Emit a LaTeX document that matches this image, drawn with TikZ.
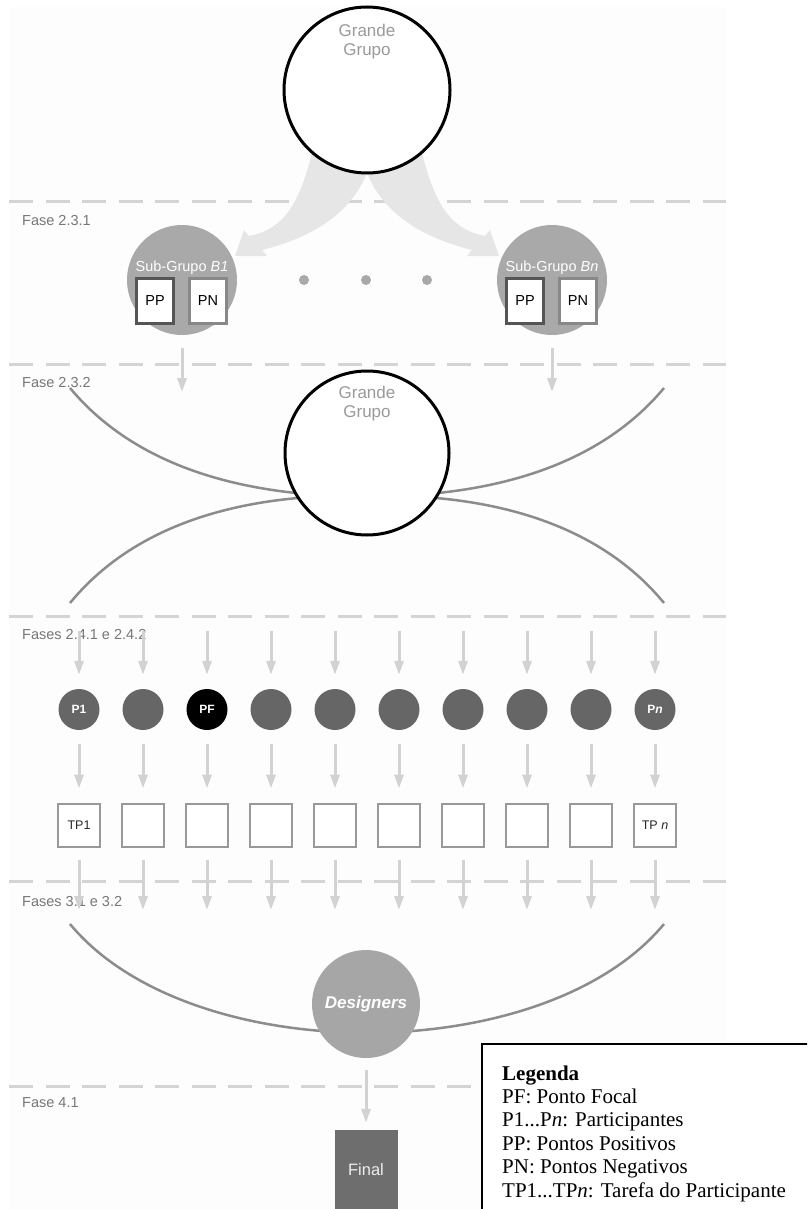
\documentclass[tikz,border=0pt]{standalone}
\usepackage{fontspec}
\setmainfont{Liberation Serif}
\setsansfont{Liberation Sans}
\usetikzlibrary{arrows.meta}
\definecolor{bgc}{HTML}{FDFDFD}
\definecolor{dashc}{HTML}{D4D4D4}
\definecolor{arrc}{HTML}{D2D2D2}
\definecolor{bandc}{HTML}{E6E6E6}
\definecolor{subc}{HTML}{A9A9A9}
\definecolor{pc}{HTML}{666666}
\definecolor{tpc}{HTML}{999999}
\definecolor{ppc}{HTML}{555555}
\definecolor{pnc}{HTML}{888888}
\definecolor{curvec}{HTML}{8C8C8C}
\definecolor{desc}{HTML}{A6A6A6}
\definecolor{finc}{HTML}{6E6E6E}
\definecolor{fasec}{HTML}{777777}
\definecolor{ggc}{HTML}{9A9A9A}
\begin{document}
\begin{tikzpicture}[x=1pt,y=-1pt,
  dashline/.style={draw=dashc, line width=3pt, dash pattern=on 24pt off 12.5pt},
  varrow/.style={draw=arrc, line width=3pt, -{Triangle[length=14pt,width=9pt]}},
  fase/.style={anchor=west, inner sep=0pt, text=fasec, font=\sffamily\fontsize{14.5}{17}\selectfont},
  bigcirc/.style={circle, draw=black, line width=3pt, fill=white, inner sep=0pt},
  ggtext/.style={align=center, inner sep=0pt, text=ggc, font=\sffamily\fontsize{17}{19}\selectfont},
  subgrp/.style={circle, fill=subc, minimum size=110pt, inner sep=0pt},
  subtext/.style={inner sep=0pt, text=white, font=\sffamily\fontsize{14.5}{17}\selectfont},
  ptbox/.style={rectangle, fill=white, line width=2.5pt, minimum width=37pt, minimum height=45pt, inner sep=0pt, font=\sffamily\fontsize{14.5}{17}\selectfont},
  dotc/.style={circle, fill=subc, minimum size=10pt, inner sep=0pt},
  pcirc/.style={circle, minimum size=41pt, inner sep=0pt, text=white, font=\sffamily\bfseries\fontsize{12}{14}\selectfont},
  tpbox/.style={rectangle, draw=tpc, line width=2pt, fill=white, minimum width=42pt, minimum height=43pt, inner sep=0pt, text=black!85, font=\sffamily\fontsize{12.5}{14}\selectfont},
  curve/.style={draw=curvec, line width=2.5pt},
  band/.style={fill=bandc},
  legtext/.style={anchor=base west, inner sep=0pt, font=\fontsize{21}{23.4}\selectfont}
]
\useasboundingbox (0,0) rectangle (807,1209);
\clip (0,0) rectangle (807,1209);
\fill[white] (0,0) rectangle (807,1209);
\fill[bgc] (9,7) rectangle (726,1209);

% dashed phase lines
\draw[dashline] (9,201) -- (726,201);
\draw[dashline] (9,364) -- (726,364);
\draw[dashline] (9,616) -- (726,616);
\draw[dashline] (9,881) -- (726,881);
\draw[dashline] (9,1086) -- (726,1086);

% phase labels
\node[fase] (f1) at (22,221) {Fase 2.3.1};
\node[fase] (f2) at (22,383) {Fase 2.3.2};
\node[fase] (f3) at (22,635) {Fases 2.4.1 e 2.4.2};
\node[fase] (f4) at (22,901) {Fases 3.1 e 3.2};
\node[fase] (f5) at (22,1103) {Fase 4.1};

% broad curved arrows from the first big group
\fill[band] (314,140) -- (312,153) .. controls (300,200) and (286,229) .. (249,236)
  -- (244,230) -- (235,256) -- (267,256) -- (262,250)
  .. controls (310,238) and (350,215) .. (367,173) -- (367,160) -- cycle;
\fill[band] (420,140) -- (422,153) .. controls (434,200) and (448,229) .. (485,236)
  -- (490,230) -- (499,256) -- (467,256) -- (472,250)
  .. controls (424,238) and (384,215) .. (367,173) -- (367,160) -- cycle;

% first big group
\node[bigcirc, minimum size=166pt] (gg1) at (367,90) {};
\node[ggtext] (gg1t) at (367,42) {Grande\\Grupo};

% sub-groups
\node[subgrp] (b1) at (182,280) {};
\node[subtext] (b1t) at (182,268) {Sub-Grupo \textit{B1}};
\node[ptbox, draw=ppc] (b1pp) at (155,301) {PP};
\node[ptbox, draw=pnc] (b1pn) at (208,301) {PN};
\node[subgrp] (bn) at (552,280) {};
\node[subtext] (bnt) at (552,268) {Sub-Grupo \textit{Bn}};
\node[ptbox, draw=ppc] (bnpp) at (525,301) {PP};
\node[ptbox, draw=pnc] (bnpn) at (578,301) {PN};
\node[dotc] (d1) at (304,280) {};
\node[dotc] (d2) at (366,280) {};
\node[dotc] (d3) at (427,280) {};

\coordinate (b1e) at (182,392);
\coordinate (bne) at (552,392);
\draw[varrow, shorten <=13pt] (b1) -- (b1e);
\draw[varrow, shorten <=13pt] (bn) -- (bne);

% crossing curves around the second big group
\draw[curve] (70,388) .. controls (130,460) and (220,485) .. (296,493);
\draw[curve] (70,603) .. controls (130,530) and (220,505) .. (298,498);
\draw[curve] (664,388) .. controls (604,460) and (514,485) .. (438,493);
\draw[curve] (664,603) .. controls (604,530) and (514,505) .. (436,498);
\node[bigcirc, minimum size=164pt] (gg2) at (367,453) {};
\node[ggtext] (gg2t) at (367,404) {Grande\\Grupo};

% participants
\foreach \i/\lab/\fc in {0/P1/pc, 1//pc, 2/PF/black, 3//pc, 4//pc, 5//pc, 6//pc, 7//pc, 8//pc, 9/{P\textit{n}}/pc} {
  \coordinate (s\i) at ({79+64*\i},631);
  \node[pcirc, fill=\fc] (p\i) at ({79+64*\i},709.5) {\lab};
  \draw[varrow, shorten >=14pt] (s\i) -- (p\i);
}
\foreach \i/\lab in {0/TP1, 1/, 2/, 3/, 4/, 5/, 6/, 7/, 8/, 9/{TP \textit{n}}} {
  \node[tpbox] (tp\i) at ({79+64*\i},825) {\lab};
  \draw[varrow, shorten <=14pt, shorten >=14pt] (p\i) -- (tp\i);
  \coordinate (e\i) at ({79+64*\i},910);
  \draw[varrow, shorten <=12pt] (tp\i) -- (e\i);
}

% designers
\draw[curve] (70,924) .. controls (190,1069) and (544,1069) .. (664,924);
\node[circle, fill=desc, minimum size=108pt, inner sep=0pt, text=white,
  font=\sffamily\bfseries\itshape\fontsize{17}{19}\selectfont] (des) at (366,1004) {Designers};
\node[rectangle, fill=finc, minimum width=63pt, minimum height=80pt, inner sep=0pt, text=white!93!black,
  font=\sffamily\fontsize{16.5}{18}\selectfont] (fin) at (366,1170) {Final};
\draw[varrow, shorten <=12pt, shorten >=7pt] (des) -- (fin);

% legend
\node[rectangle, draw=black, line width=1.5pt, fill=white, anchor=north west,
  minimum width=340pt, minimum height=190pt, inner sep=0pt] (leg) at (481,1043) {};
\node[legtext] (l0) at (502,1080) {\textbf{Legenda}};
\node[legtext] (l1) at (502,1103.4) {PF: Ponto Focal};
\node[legtext] (l2) at (502,1126.8) {P1...P\textit{n}: Participantes};
\node[legtext] (l3) at (502,1150.2) {PP: Pontos Positivos};
\node[legtext] (l4) at (502,1173.6) {PN: Pontos Negativos};
\node[legtext] (l5) at (502,1197) {TP1...TP\textit{n}: Tarefa do Participante};
\end{tikzpicture}
\end{document}
